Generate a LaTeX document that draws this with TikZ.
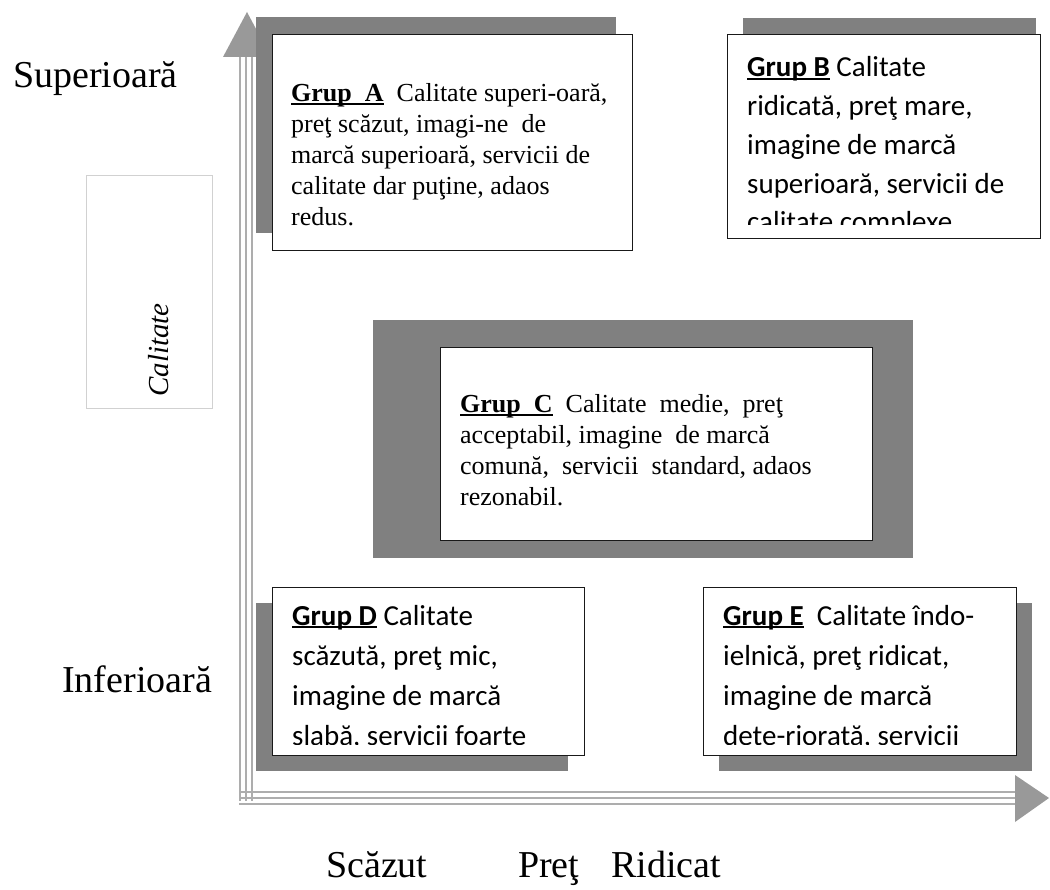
\documentclass[tikz,border=0pt]{standalone}
\usepackage{fontspec}
\setmainfont{Liberation Serif}
\newfontfamily\calib{Carlito}
% underlined bold group title
\newcommand\grp[1]{\setbox0=\hbox{\bfseries #1}\rlap{\rule[-2.6pt]{\wd0}{1.2pt}}\box0\relax}
% one line of a stacked text block
\newcommand\row[1]{\hbox{#1}}
\begin{document}
\begin{tikzpicture}[x=1pt,y=-1pt,
  shade/.style={fill=black!50},
  axisline/.style={draw=black!32, line width=2.6pt},
  axishead/.style={fill=black!40},
  card/.style={draw=black!90, line width=1.4pt, fill=white, rectangle, inner sep=0pt, anchor=north west},
  serif/.style={font=\fontsize{26}{31}\selectfont, inner sep=0pt, anchor=base west},
  sans/.style={font=\calib\fontsize{29}{39}\selectfont, inner sep=0pt, anchor=base west},
  axislabel/.style={font=\fontsize{38}{44}\selectfont, inner sep=0pt, anchor=base west}]
\useasboundingbox (0,0) rectangle (1050,890);

% quality axis (vertical)
\fill[axishead] (247,12) -- (271,57) -- (223,57) -- cycle;
\foreach \x in {240,246,252} \draw[axisline] (\x,57) -- (\x,801);
% price axis (horizontal)
\foreach \y in {792,798,804} \draw[axisline] (239,\y) -- (1016,\y);
\fill[axishead] (1015,775) -- (1049,798) -- (1015,822) -- cycle;

% shadows behind the group cards
\fill[shade] (256,17) rectangle (616,233);
\fill[shade] (743,18) rectangle (1036,222);
\fill[shade] (373,320) rectangle (913,558);
\fill[shade] (256,603) rectangle (568,771);
\fill[shade] (719,603) rectangle (1032,771);

% group cards
\node[card, minimum width=360, minimum height=216] (boxA) at (272,34) {};
\node[card, minimum width=313, minimum height=204] (boxB) at (727,34) {};
\node[card, minimum width=432, minimum height=193] (boxC) at (440,347) {};
\node[card, minimum width=312, minimum height=168] (boxD) at (272,587) {};
\node[card, minimum width=313, minimum height=168] (boxE) at (703,587) {};

% card texts
\node[serif] (txtA) at (291,102) {\vtop{%
  \row{\grp{Grup\ \ A}\ \ Calitate\ superi-oară,}
  \row{preţ scăzut, imagi-ne\ \ de}
  \row{marcă\ superioară, servicii\ de}
  \row{calitate\ dar puţine, adaos}
  \row{redus.}}};

\begin{scope}
  \clip (727,34) rectangle (1040,225);
  \node[sans, font=\calib\fontsize{29}{38.7}\selectfont] (txtB) at (747,77) {\vtop{%
    \row{\grp{Grup B} Calitate}
    \row{ridicată, preţ mare,}
    \row{imagine de marcă}
    \row{superioară, servicii de}
    \row{calitate complexe}}};
\end{scope}

\node[serif] (txtC) at (460,413) {\vtop{%
  \row{\grp{Grup\ \ C}\ \ Calitate\ \ medie,\ \ preţ}
  \row{acceptabil, imagine\ \ de marcă}
  \row{comună,\ \ servicii\ \ standard, adaos}
  \row{rezonabil.}}};

\begin{scope}
  \clip (272,587) rectangle (584,744);
  \node[sans, font=\calib\fontsize{29}{40}\selectfont] (txtD) at (292,625) {\vtop{%
    \row{\grp{Grup D} Calitate}
    \row{scăzută, preţ mic,}
    \row{imagine de marcă}
    \row{slabă, servicii foarte}}};
\end{scope}

\begin{scope}
  \clip (703,587) rectangle (1016,744);
  \node[sans, font=\calib\fontsize{29}{40}\selectfont] (txtE) at (723,625) {\vtop{%
    \row{\grp{Grup E}\ \ Calitate îndo-}
    \row{ielnică, preţ ridicat,}
    \row{imagine de marcă}
    \row{dete-riorată, servicii}}};
\end{scope}

% axis labels
\node[axislabel] (sup) at (13,88) {Superioară};
\node[axislabel] (inf) at (62,692) {Inferioară};
\node[draw=black!18, line width=0.8pt, minimum width=126, minimum height=233, inner sep=0pt, anchor=north west] (calbox) at (86,175) {};
\node[rotate=90, anchor=base west, inner sep=0pt, font=\itshape\fontsize{29}{34}\selectfont] (caltxt) at (168,397) {Calitate};
\node[axislabel] (low) at (326,877) {Scăzut};
\node[axislabel] (pret) at (518,877) {Preţ};
\node[axislabel] (high) at (611,877) {Ridicat};
\end{tikzpicture}
\end{document}
